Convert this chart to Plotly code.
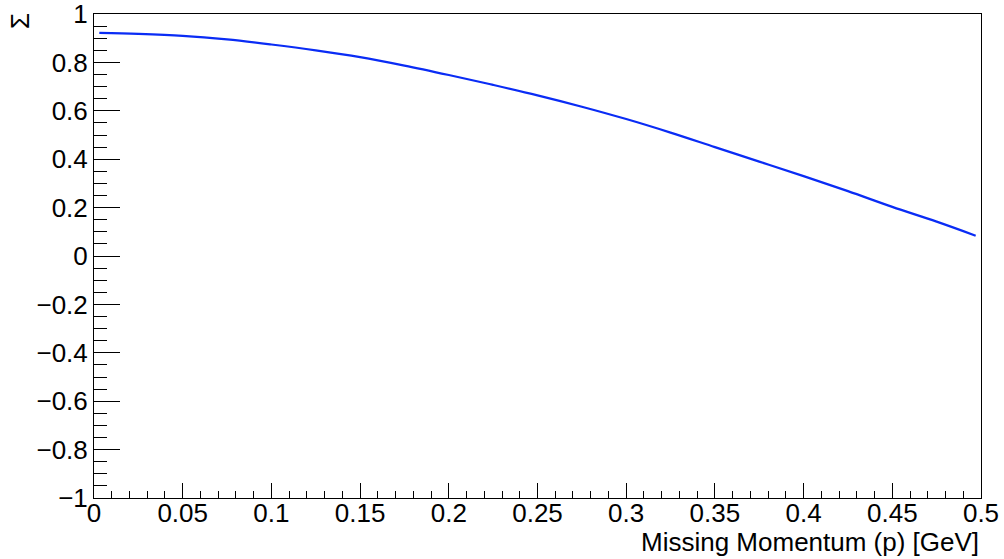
import plotly.graph_objects as go

# Data
momentum = [0.003, 0.025, 0.05, 0.075, 0.1, 0.125, 0.15, 0.175, 0.2, 0.225,
            0.25, 0.275, 0.3, 0.325, 0.35, 0.375, 0.4, 0.425, 0.45, 0.475, 0.497]
sigma = [0.922, 0.918, 0.910, 0.895, 0.874, 0.850, 0.822, 0.787, 0.748, 0.707,
         0.664, 0.617, 0.566, 0.510, 0.450, 0.390, 0.330, 0.268, 0.203, 0.142, 0.084]

x_ticks = [0, 0.05, 0.1, 0.15, 0.2, 0.25, 0.3, 0.35, 0.4, 0.45, 0.5]
y_ticks = [-1, -0.8, -0.6, -0.4, -0.2, 0, 0.2, 0.4, 0.6, 0.8, 1]

x_title = "Missing Momentum (p) [GeV]"
y_title = "Σ"

FONT = "Liberation Sans, Arial, Helvetica, sans-serif"

fig = go.Figure()
fig.add_trace(go.Scatter(x=momentum, y=sigma, mode="lines", line_shape="spline",
                         line=dict(color="#0a2cf5", width=2.2), showlegend=False))

W, H = 1004, 559
L, R, T, B = 94, 23, 14, 61
pw, ph = W - L - R, H - T - B

fig.update_layout(
    width=W, height=H,
    margin=dict(l=L, r=R, t=T, b=B, autoexpand=False),
    paper_bgcolor="white", plot_bgcolor="white",
    font=dict(family=FONT, size=26, color="black"),
    xaxis=dict(range=[0, 0.5], tickmode="array", tickvals=x_ticks,
               ticktext=[f"{v:g}" for v in x_ticks],
               showgrid=False, zeroline=False, automargin=False,
               showline=True, linecolor="black", linewidth=1, mirror=True,
               ticks="inside", ticklen=15, tickcolor="black", tickwidth=1,
               ticklabelstandoff=-8, ticklabeloverflow="allow",
               minor=dict(ticks="inside", ticklen=7, dtick=0.01, tick0=0,
                          tickcolor="black", tickwidth=1),
               tickfont=dict(family=FONT, size=26, color="black")),
    yaxis=dict(range=[-1, 1], tickmode="array", tickvals=y_ticks,
               ticktext=[f"{v:g}".replace("-", "\u2212") for v in y_ticks],
               showgrid=False, zeroline=False, automargin=False,
               showline=True, linecolor="black", linewidth=1, mirror=True,
               ticks="inside", ticklen=26, tickcolor="black", tickwidth=1,
               ticklabeloverflow="allow",
               minor=dict(ticks="inside", ticklen=13, dtick=0.05, tick0=0,
                          tickcolor="black", tickwidth=1),
               tickfont=dict(family=FONT, size=26, color="black")),
    annotations=[
        dict(text=x_title, xref="paper", yref="paper", x=1.0, y=-(542 - 498) / ph,
             xanchor="right", yanchor="middle", showarrow=False,
             font=dict(family=FONT, size=26, color="black")),
        dict(text=y_title, xref="paper", yref="paper", x=(20.5 - L) / pw, y=(498 - 21.5) / ph,
             xanchor="center", yanchor="middle", showarrow=False, textangle=-90,
             font=dict(family=FONT, size=26, color="black")),
    ],
)

fig.write_html("out.html")
